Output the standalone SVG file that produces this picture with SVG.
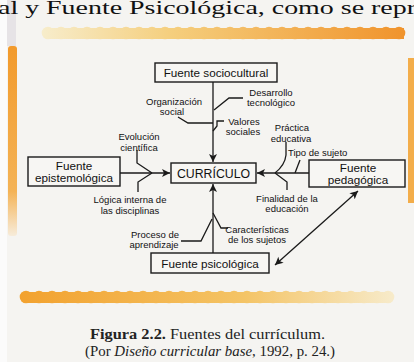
<svg xmlns="http://www.w3.org/2000/svg" width="414" height="362" viewBox="0 0 414 362">
<defs>
<linearGradient id="gTop" gradientUnits="userSpaceOnUse" x1="40" y1="0" x2="410" y2="0">
<stop offset="0" stop-color="#f7edcc"/><stop offset="0.35" stop-color="#f5cf7e"/><stop offset="1" stop-color="#f0922a"/>
</linearGradient>
<linearGradient id="gBot" gradientUnits="userSpaceOnUse" x1="18" y1="0" x2="395" y2="0">
<stop offset="0" stop-color="#f2a12e"/><stop offset="0.6" stop-color="#f4c466"/><stop offset="1" stop-color="#f7ebcb"/>
</linearGradient>
<linearGradient id="gLeft" gradientUnits="userSpaceOnUse" x1="0" y1="45" x2="0" y2="240">
<stop offset="0" stop-color="#f29a2c"/><stop offset="0.75" stop-color="#f4b356"/><stop offset="1" stop-color="#f7f1e6"/>
</linearGradient>
<marker id="ah" viewBox="0 0 10 10" refX="10" refY="5" markerWidth="9" markerHeight="8" markerUnits="userSpaceOnUse" orient="auto-start-reverse">
<path d="M0,0 L10,5 L0,10 L2.5,5 z" fill="#1a1a1a"/>
</marker>
<style>
.box{fill:#f7f6f3;stroke:#1a1a1a;stroke-width:1.4}
.t{font-family:"Liberation Sans",Arial,sans-serif;fill:#111;text-anchor:middle}
.bt{font-size:11.7px}
.lb{font-size:9.5px}
.ln{fill:none;stroke:#1a1a1a;stroke-width:1.3}
.cap{font-family:"Liberation Serif","Times New Roman",serif;fill:#222;font-size:15px}
</style>
</defs>
<rect width="414" height="362" fill="#f5f4f1"/>
<rect x="0" y="0" width="7" height="362" fill="#fbfbfb"/>
<rect x="7" y="0" width="9" height="46" fill="#e6e3e6"/>
<text x="207" y="14" font-family="'Liberation Serif','Times New Roman',serif" font-size="19" fill="#111" text-anchor="middle" textLength="418" lengthAdjust="spacingAndGlyphs">al y Fuente Psicológica, como se repr</text>
<rect x="8" y="46" width="9" height="190" rx="3" fill="url(#gLeft)"/>
<rect x="408" y="58" width="6" height="145" fill="#f3ad4a"/>
<g id="band-top" fill="url(#gTop)">
<rect x="46" y="28" width="358" height="11"/>
<circle cx="48" cy="33" r="6.3"/><circle cx="61" cy="33" r="6.3"/><circle cx="74" cy="33" r="6.3"/><circle cx="87" cy="33" r="6.3"/><circle cx="100" cy="33" r="6.3"/><circle cx="113" cy="33" r="6.3"/><circle cx="126" cy="33" r="6.3"/><circle cx="139" cy="33" r="6.3"/><circle cx="152" cy="33" r="6.3"/><circle cx="165" cy="33" r="6.3"/><circle cx="178" cy="33" r="6.3"/><circle cx="191" cy="33" r="6.3"/><circle cx="204" cy="33" r="6.3"/><circle cx="217" cy="33" r="6.3"/><circle cx="230" cy="33" r="6.3"/><circle cx="243" cy="33" r="6.3"/><circle cx="256" cy="33" r="6.3"/><circle cx="269" cy="33" r="6.3"/><circle cx="282" cy="33" r="6.3"/><circle cx="295" cy="33" r="6.3"/><circle cx="308" cy="33" r="6.3"/><circle cx="321" cy="33" r="6.3"/><circle cx="334" cy="33" r="6.3"/><circle cx="347" cy="33" r="6.3"/><circle cx="360" cy="33" r="6.3"/><circle cx="373" cy="33" r="6.3"/><circle cx="386" cy="33" r="6.3"/><circle cx="399" cy="33" r="6.3"/>
</g>
<g id="band-bottom" fill="url(#gBot)">
<rect x="24" y="292" width="366" height="11"/>
<circle cx="26" cy="297" r="6.3"/><circle cx="39" cy="297" r="6.3"/><circle cx="52" cy="297" r="6.3"/><circle cx="65" cy="297" r="6.3"/><circle cx="78" cy="297" r="6.3"/><circle cx="91" cy="297" r="6.3"/><circle cx="104" cy="297" r="6.3"/><circle cx="117" cy="297" r="6.3"/><circle cx="130" cy="297" r="6.3"/><circle cx="143" cy="297" r="6.3"/><circle cx="156" cy="297" r="6.3"/><circle cx="169" cy="297" r="6.3"/><circle cx="182" cy="297" r="6.3"/><circle cx="195" cy="297" r="6.3"/><circle cx="208" cy="297" r="6.3"/><circle cx="221" cy="297" r="6.3"/><circle cx="234" cy="297" r="6.3"/><circle cx="247" cy="297" r="6.3"/><circle cx="260" cy="297" r="6.3"/><circle cx="273" cy="297" r="6.3"/><circle cx="286" cy="297" r="6.3"/><circle cx="299" cy="297" r="6.3"/><circle cx="312" cy="297" r="6.3"/><circle cx="325" cy="297" r="6.3"/><circle cx="338" cy="297" r="6.3"/><circle cx="351" cy="297" r="6.3"/><circle cx="364" cy="297" r="6.3"/><circle cx="377" cy="297" r="6.3"/><circle cx="388" cy="297" r="6.3"/>
</g>

<g id="connectors">
<path class="ln" d="M213,82 V162" marker-end="url(#ah)"/>
<path class="ln" d="M120,173 H170" marker-end="url(#ah)"/>
<path class="ln" d="M309,173 H257" marker-end="url(#ah)"/>
<path class="ln" d="M213,253 V184" marker-end="url(#ah)"/>
<path class="ln" d="M275,265 L358,191" marker-start="url(#ah)" marker-end="url(#ah)"/>
<path class="ln" d="M243,98 H229 L214,110"/>
<path class="ln" d="M178,117 L188,123 H213"/>
<path class="ln" d="M224,121 H217 V126 L213,131"/>
<path class="ln" d="M137,150 V163 L152,173"/>
<path class="ln" d="M152,173 L138,182 V192"/>
<path class="ln" d="M286,142 V155 Q285,165 275,173"/>
<path class="ln" d="M300,160 L295,173"/>
<path class="ln" d="M275,173 L287,182 V190"/>
<path class="ln" d="M181,241 H201 L212,219"/>
<path class="ln" d="M213,213 L221,228 H228"/>
</g>

<g id="n-sociocultural"><rect class="box" x="155" y="63" width="122" height="19"/><text class="t bt" x="216" y="77">Fuente sociocultural</text></g>
<g id="n-curriculo"><rect class="box" x="171" y="163" width="85" height="20"/><text class="t" x="213.5" y="178" font-size="12.3">CURRÍCULO</text></g>
<g id="n-epistemologica"><rect class="box" x="28" y="157" width="92" height="29"/><text class="t bt" x="74" y="170">Fuente</text><text class="t bt" x="74" y="182">epistemológica</text></g>
<g id="n-pedagogica"><rect class="box" x="309" y="160" width="96" height="27"/><text class="t bt" x="358" y="172">Fuente</text><text class="t bt" x="358" y="184">pedagógica</text></g>
<g id="n-psicologica"><rect class="box" x="151" y="253" width="118" height="20"/><text class="t bt" x="210" y="268">Fuente psicológica</text></g>

<g id="labels">
<text class="t lb" x="271" y="96">Desarrollo</text><text class="t lb" x="271" y="106">tecnológico</text>
<text class="t lb" x="174" y="105">Organización</text><text class="t lb" x="172" y="115">social</text>
<text class="t lb" x="244" y="125">Valores</text><text class="t lb" x="243" y="135">sociales</text>
<text class="t lb" x="292" y="131">Práctica</text><text class="t lb" x="291" y="142">educativa</text>
<text class="t lb" x="288" y="156" style="text-anchor:start">Tipo de sujeto</text>
<text class="t lb" x="287" y="202">Finalidad de la</text><text class="t lb" x="287" y="212">educación</text>
<text class="t lb" x="139" y="140">Evolución</text><text class="t lb" x="139" y="151">científica</text>
<text class="t lb" x="130" y="203">Lógica interna de</text><text class="t lb" x="130" y="214">las disciplinas</text>
<text class="t lb" x="155" y="238">Proceso de</text><text class="t lb" x="154" y="248">aprendizaje</text>
<text class="t lb" x="257" y="233">Características</text><text class="t lb" x="257" y="243">de los sujetos</text>
</g>

<g id="caption">
<text class="cap" x="90" y="339" textLength="235" lengthAdjust="spacingAndGlyphs"><tspan font-weight="bold">Figura 2.2.</tspan> Fuentes del currículum.</text>
<text class="cap" x="85" y="356" textLength="250" lengthAdjust="spacingAndGlyphs">(Por <tspan font-style="italic">Diseño curricular base</tspan>, 1992, p. 24.)</text>
</g>
</svg>
